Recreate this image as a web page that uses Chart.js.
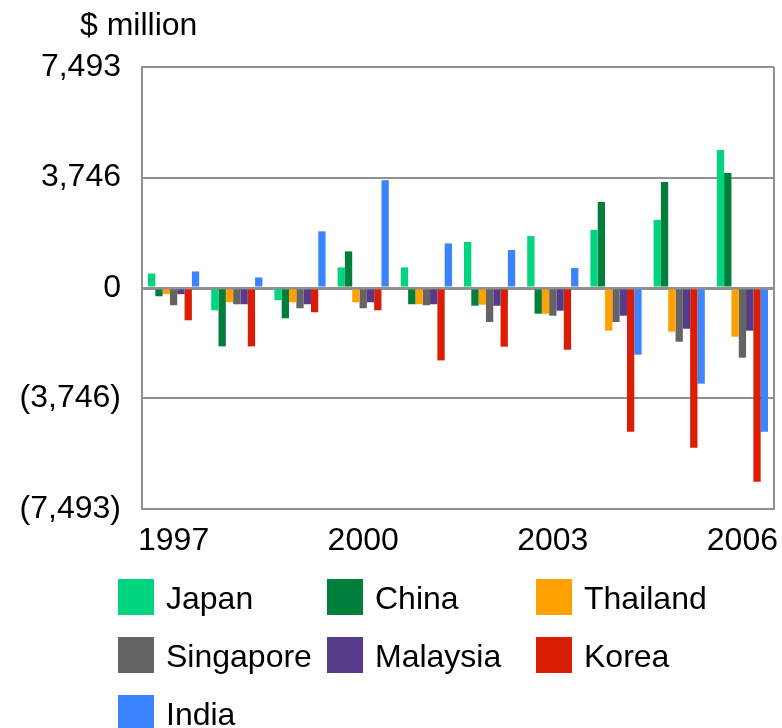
<!DOCTYPE html>
<html>
<head>
<meta charset="utf-8">
<script src="https://cdn.jsdelivr.net/npm/chart.js@4/dist/chart.umd.min.js"></script>
<style>
  html, body { margin: 0; padding: 0; background: #fff; }
  #wrap { position: relative; width: 782px; height: 728px; overflow: hidden; }
  #c { position: absolute; left: 0; top: 0; }
  .unit { position: absolute; left: 80px; top: 6px; font: 32px "Liberation Sans", Arial, sans-serif; color: #000; white-space: nowrap; }
  .lg-item { position: absolute; height: 36px; }
  .lg-box { position: absolute; left: 0; top: 0; width: 36px; height: 36px; }
  .lg-text { position: absolute; left: 48px; top: 1px; font: 32px "Liberation Sans", Arial, sans-serif; line-height: 36px; color: #000; white-space: nowrap; }
</style>
</head>
<body>
<div id="wrap">
  <canvas id="c" width="782" height="728"></canvas>
  <div class="unit">$ million</div>
  <div id="legend"></div>
</div>
<script>
const years = ["1997","1998","1999","2000","2001","2002","2003","2004","2005","2006"];
const shownYears = ["1997","2000","2003","2006"];
const yTicks = [-7493, -3746, 0, 3746, 7493];

const japan     = [490, -755, -415, 697, 697, 1559, 1763, 1966, 2305, 4678];
const china     = [-280, -1979, -1027, 1241, -551, -600, -871, 2915, 3593, 3899];
const thailand  = [-210, -483, -483, -483, -551, -566, -871, -1447, -1481, -1651];
const singapore = [-585, -551, -687, -687, -585, -1153, -939, -1153, -1820, -2363];
const malaysia  = [-210, -551, -551, -483, -551, -600, -769, -939, -1380, -1447];
const korea     = [-1095, -1979, -823, -755, -2455, -1990, -2092, -4871, -5414, -6566];
const india     = [561, 357, 1921, 3655, 1513, 1288, 678, -2261, -3244, -4871];

const seriesNames = ["Japan","China","Thailand","Singapore","Malaysia","Korea","India"];
const seriesData = [japan, china, thailand, singapore, malaysia, korea, india];
const seriesColors = ["#00d47f","#007f3b","#ffa100","#646464","#553b8a","#d91e05","#3a85ff"];

const FONT = '"Liberation Sans", Arial, sans-serif';

function fmt(v) {
  const s = Math.abs(v).toLocaleString('en-US');
  return v < 0 ? '(' + s + ')' : s;
}

const framePlugin = {
  id: 'frame',
  afterDraw(chart) {
    const a = chart.chartArea, ctx = chart.ctx;
    ctx.save();
    ctx.strokeStyle = '#909090';
    ctx.lineWidth = 2;
    ctx.beginPath();
    ctx.moveTo(a.right, a.top);
    ctx.lineTo(a.right, a.bottom);
    ctx.stroke();
    ctx.restore();
  }
};

const chart = new Chart(document.getElementById('c'), {
  type: 'bar',
  data: {
    labels: years,
    datasets: seriesNames.map((n, i) => ({
      label: n,
      data: seriesData[i],
      backgroundColor: seriesColors[i],
      borderWidth: 0,
      categoryPercentage: 0.81,
      barPercentage: 1.0
    }))
  },
  options: {
    responsive: false,
    animation: false,
    devicePixelRatio: 1,
    layout: { padding: { left: 0, top: 67, right: 8, bottom: 159 } },
    plugins: { legend: { display: false }, tooltip: { enabled: false }, title: { display: false } },
    scales: {
      x: {
        grid: { display: false, drawTicks: false },
        border: { display: true, color: '#909090', width: 2 },
        ticks: {
          autoSkip: false, maxRotation: 0, minRotation: 0, padding: 13,
          color: '#000', font: { family: FONT, size: 32 },
          callback: function(v, i) { const l = years[i]; return shownYears.includes(l) ? l : ''; }
        },
        afterFit(scale) { scale.height = 60; scale.paddingLeft = 0; scale.paddingRight = 0; }
      },
      y: {
        min: yTicks[0], max: yTicks[yTicks.length - 1],
        afterBuildTicks(scale) { scale.ticks = yTicks.map(v => ({ value: v })); },
        grid: {
          drawTicks: false,
          color: '#909090',
          lineWidth: ctx => (ctx.tick && ctx.tick.value === 0) ? 3 : 2
        },
        border: { display: true, color: '#909090', width: 2 },
        ticks: {
          autoSkip: false, padding: 21, color: '#000',
          font: { family: FONT, size: 32 },
          callback: v => fmt(v)
        },
        afterFit(scale) { scale.width = 142; scale.paddingTop = 0; scale.paddingBottom = 0; }
      }
    }
  },
  plugins: [framePlugin]
});

// HTML legend built from the chart's datasets
const legend = document.getElementById('legend');
const colX = [118, 327, 536];
const rowY = [579, 637, 695];
chart.data.datasets.forEach((ds, i) => {
  const item = document.createElement('div');
  item.className = 'lg-item';
  item.style.left = colX[i % 3] + 'px';
  item.style.top = rowY[Math.floor(i / 3)] + 'px';
  const box = document.createElement('div');
  box.className = 'lg-box';
  box.style.background = ds.backgroundColor;
  const txt = document.createElement('div');
  txt.className = 'lg-text';
  txt.textContent = ds.label;
  item.appendChild(box);
  item.appendChild(txt);
  legend.appendChild(item);
});
</script>
</body>
</html>
